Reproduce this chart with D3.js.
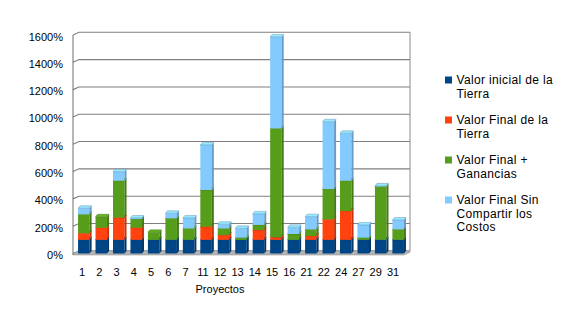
<!DOCTYPE html>
<html>
<head>
<meta charset="utf-8">
<script src="https://cdn.jsdelivr.net/npm/d3@7"></script>
<style>
  body { margin: 0; background: #fff; }
  text { font-family: "Liberation Sans", Arial, sans-serif; fill: #000; }
</style>
</head>
<body>
<div id="chart"></div>
<script>
// Proyectos (categories)
var proyectos = ["1", "2", "3", "4", "5", "6", "7", "11", "12", "13", "14", "15", "16", "21", "22", "24", "27", "29", "31"];

// segment heights in % (stacked)
var valorInicial = [100, 100, 100, 100, 100, 100, 100, 100, 100, 100, 100, 100, 100, 100, 100, 100, 100, 100, 100];
var valorFinal = [48, 89, 162, 89, 0, 0, 0, 96, 35, 0, 72, 19, 0, 28, 150, 211, 0, 0, 0];
var valorGanancias = [139, 80, 271, 63, 55, 158, 84, 269, 49, 16, 37, 797, 43, 49, 222, 222, 16, 390, 77];
var valorSinCompartir = [44, 0, 66, 8, 0, 36, 76, 330, 30, 68, 81, 670, 49, 93, 493, 347, 93, 5, 68];

var yTicks = [0, 200, 400, 600, 800, 1000, 1200, 1400, 1600];

var seriesNames = [
  ["Valor inicial de la", "Tierra"],
  ["Valor Final de la", "Tierra"],
  ["Valor Final +", "Ganancias"],
  ["Valor Final Sin", "Compartir los", "Costos"]
];
var colors = ["#004586", "#ff420e", "#579d1c", "#83caff"];

var width = 571, height = 317;

var svg = d3.select("#chart")
  .append("svg")
  .attr("width", width)
  .attr("height", height);

var y = d3.scaleLinear().domain([0, 1600]).range([253.5, 35]);
var x = d3.scaleBand()
  .domain(proyectos)
  .range([75.1, 406.9])
  .paddingInner(0.34)
  .paddingOuter(0.17);
// axis labels sit a bit left of the bar fronts
var xLabel = d3.scalePoint().domain(proyectos).range([82, 393]);

var wallDx = 6, wallDy = -2.7;
var barDx = 2, barDy = -2.5;
var axisX = 73, rightX = 410;

// back wall grid + left wall diagonals
var grid = svg.append("g").attr("class", "grid");
yTicks.forEach(function (t) {
  grid.append("path")
    .attr("d", "M" + axisX + "," + y(t) +
      "L" + (axisX + wallDx) + "," + (y(t) + wallDy) +
      "L" + rightX + "," + (y(t) + wallDy))
    .attr("fill", "none")
    .attr("stroke", "#7f7f7f")
    .attr("stroke-width", 1.1);
});

// right edge of back wall
grid.append("line")
  .attr("x1", rightX).attr("x2", rightX)
  .attr("y1", y(1600) + wallDy).attr("y2", y(0) + wallDy)
  .attr("stroke", "#8c8c8c");

// floor
svg.append("path")
  .attr("d", "M" + axisX + "," + (y(0) + 1.5) +
    "L" + axisX + "," + y(0) +
    "L" + (axisX + wallDx) + "," + (y(0) + wallDy) +
    "L" + rightX + "," + (y(0) + wallDy) +
    "L" + rightX + "," + (y(0) + wallDy + 1.5) +
    "L" + (rightX - wallDx) + "," + (y(0) + 1.5) + "Z")
  .attr("fill", "#b3b3b3")
  .attr("stroke", "#9a9a9a")
  .attr("stroke-width", 0.6);

// front left axis line
svg.append("line")
  .attr("x1", axisX).attr("x2", axisX)
  .attr("y1", y(1600)).attr("y2", y(0) + 1.5)
  .attr("stroke", "#6e6e6e")
  .attr("stroke-width", 1);

// y labels
svg.append("g")
  .selectAll("text")
  .data(yTicks)
  .enter()
  .append("text")
  .attr("x", 63)
  .attr("y", function (d) { return y(d) + 1.5; })
  .attr("text-anchor", "end")
  .attr("dominant-baseline", "central")
  .style("font-size", "11px")
  .text(function (d) { return d + "%"; });

// stacked 3D bars
var stackData = proyectos.map(function (p, i) {
  return {
    p: p,
    s0: valorInicial[i],
    s1: valorFinal[i],
    s2: valorGanancias[i],
    s3: valorSinCompartir[i]
  };
});
var stack = d3.stack().keys(["s0", "s1", "s2", "s3"])(stackData);

var bars = svg.append("g").attr("class", "bars");
var w = x.bandwidth();

proyectos.forEach(function (p, i) {
  var g = bars.append("g");
  stack.forEach(function (layer, k) {
    var seg = layer[i];
    if (seg[1] - seg[0] <= 0) return;
    var x0 = x(p), x1 = x(p) + w;
    var yt = y(seg[1]), yb = y(seg[0]);
    var c = d3.color(colors[k]);
    // front
    g.append("rect")
      .attr("x", x0).attr("y", yt)
      .attr("width", w).attr("height", yb - yt)
      .attr("fill", colors[k]);
    // side
    g.append("path")
      .attr("d", "M" + x1 + "," + yt + "L" + (x1 + barDx) + "," + (yt + barDy) +
        "L" + (x1 + barDx) + "," + (yb + barDy) + "L" + x1 + "," + yb + "Z")
      .attr("fill", c.darker(0.7));
    // top
    g.append("path")
      .attr("d", "M" + x0 + "," + yt + "L" + (x0 + barDx) + "," + (yt + barDy) +
        "L" + (x1 + barDx) + "," + (yt + barDy) + "L" + x1 + "," + yt + "Z")
      .attr("fill", c.brighter(0.4))
      .attr("stroke", c.darker(1.2))
      .attr("stroke-width", 0.4);
  });
});

// x labels
svg.append("g")
  .selectAll("text")
  .data(proyectos)
  .enter()
  .append("text")
  .attr("x", function (d) { return xLabel(d); })
  .attr("y", 272)
  .attr("text-anchor", "middle")
  .attr("dominant-baseline", "central")
  .style("font-size", "11px")
  .text(function (d) { return d; });

svg.append("text")
  .attr("x", 220)
  .attr("y", 289)
  .attr("text-anchor", "middle")
  .attr("dominant-baseline", "central")
  .style("font-size", "11px")
  .text("Proyectos");

// legend
var legend = svg.append("g").attr("class", "legend");
var legendY = [80, 120, 160, 200];
seriesNames.forEach(function (lines, k) {
  legend.append("rect")
    .attr("x", 445)
    .attr("y", legendY[k] - 3.5)
    .attr("width", 7)
    .attr("height", 7)
    .attr("fill", colors[k]);
  lines.forEach(function (line, j) {
    legend.append("text")
      .attr("x", 456.5)
      .attr("y", legendY[k] + j * 13.6)
      .attr("dominant-baseline", "central")
      .style("font-size", "12px")
      .style("letter-spacing", "0.35px")
      .text(line);
  });
});
</script>
</body>
</html>
